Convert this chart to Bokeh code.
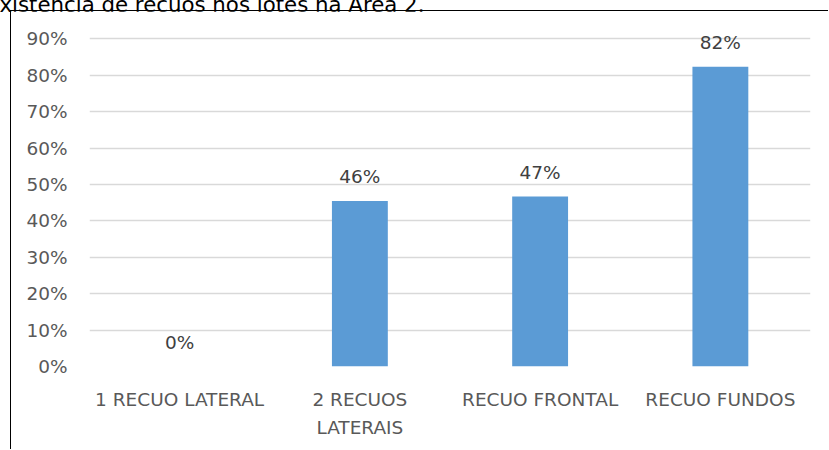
from bokeh.plotting import figure
from bokeh.models import (ColumnDataSource, NumeralTickFormatter, LabelSet,
                          FixedTicker, Range1d, LinearAxis, Div)
from bokeh.layouts import column
from bokeh.core.properties import value
from bokeh.embed import file_html
from bokeh.resources import INLINE

# Share of lots with each kind of setback
categories = ["1 RECUO LATERAL", "2 RECUOS LATERAIS", "RECUO FRONTAL", "RECUO FUNDOS"]
shares = [0.0, 0.455, 0.467, 0.824]
share_labels = ["0%", "46%", "47%", "82%"]
y_ticks = [0.0, 0.1, 0.2, 0.3, 0.4, 0.5, 0.6, 0.7, 0.8, 0.9]
title_text = "Existência de recuos nos lotes na Área 2."

FONT = "DejaVu Sans"
TEXT_GREY = "#595959"
LABEL_GREY = "#404040"

positions = list(range(len(categories)))
source = ColumnDataSource(data=dict(x=positions, share=shares, label=share_labels))

p = figure(frame_width=721, frame_height=346,
           x_range=Range1d(-0.5, len(categories) - 0.5), y_range=Range1d(0, 0.9508),
           output_backend="svg", toolbar_location=None,
           min_border_left=78, min_border_right=18, min_border_top=9,
           min_border_bottom=83)
p.background_fill_color = "white"
p.border_fill_color = "white"
p.outline_line_color = None

p.vbar(x="x", top="share", width=0.31, source=source,
       fill_color="#5B9BD5", line_color=None)

# value labels above the bars
labels = LabelSet(x="x", y="share", text="label", source=source,
                  text_align="center", text_baseline="alphabetic", y_offset=18,
                  text_font=value(FONT), text_font_size="18.5px",
                  text_color=LABEL_GREY)
p.add_layout(labels)

# y axis
p.yaxis.ticker = FixedTicker(ticks=y_ticks)
p.yaxis.formatter = NumeralTickFormatter(format="0%")
p.yaxis.axis_line_color = None
p.yaxis.major_tick_line_color = None
p.yaxis.major_tick_out = 0
p.yaxis.minor_tick_line_color = None
p.yaxis.major_label_standoff = 22
p.yaxis.major_label_text_font = FONT
p.yaxis.major_label_text_font_size = "18.5px"
p.yaxis.major_label_text_color = TEXT_GREY


def style_x(axis, standoff):
    axis.ticker = FixedTicker(ticks=positions)
    axis.axis_line_color = None
    axis.major_tick_line_color = None
    axis.major_tick_out = 0
    axis.minor_tick_line_color = None
    axis.major_label_standoff = standoff
    axis.major_label_text_font = FONT
    axis.major_label_text_font_size = "18.5px"
    axis.major_label_text_color = TEXT_GREY


# category names; the long one wraps onto a second row
first_row = p.xaxis[0]
style_x(first_row, 22)
first_row.major_label_overrides = {i: c for i, c in enumerate(categories)}
first_row.major_label_overrides[1] = "2 RECUOS"

second_row = LinearAxis()
style_x(second_row, 4)
second_row.major_label_overrides = {i: " " for i in positions}
second_row.major_label_overrides[1] = "LATERAIS"
p.add_layout(second_row, "below")

p.xgrid.grid_line_color = None
p.ygrid.grid_line_color = "#D9D9D9"
p.ygrid.grid_line_width = 1.3

caption = Div(
    text=(f'<div style="position:relative; top:-10px; left:-14px; white-space:nowrap;'
          f' font-family:\'{FONT}\'; font-size:21.3px; color:#000;">{title_text}</div>'),
    width=829, height=10, margin=0,
)
framed = column(p, margin=(0, 0, 0, 10), spacing=0,
                styles={"border-top": "1.5px solid #000",
                        "border-left": "1.5px solid #000"})
page = column(caption, framed, margin=0, spacing=0)

open("out.html", "w").write(file_html(page, INLINE))
